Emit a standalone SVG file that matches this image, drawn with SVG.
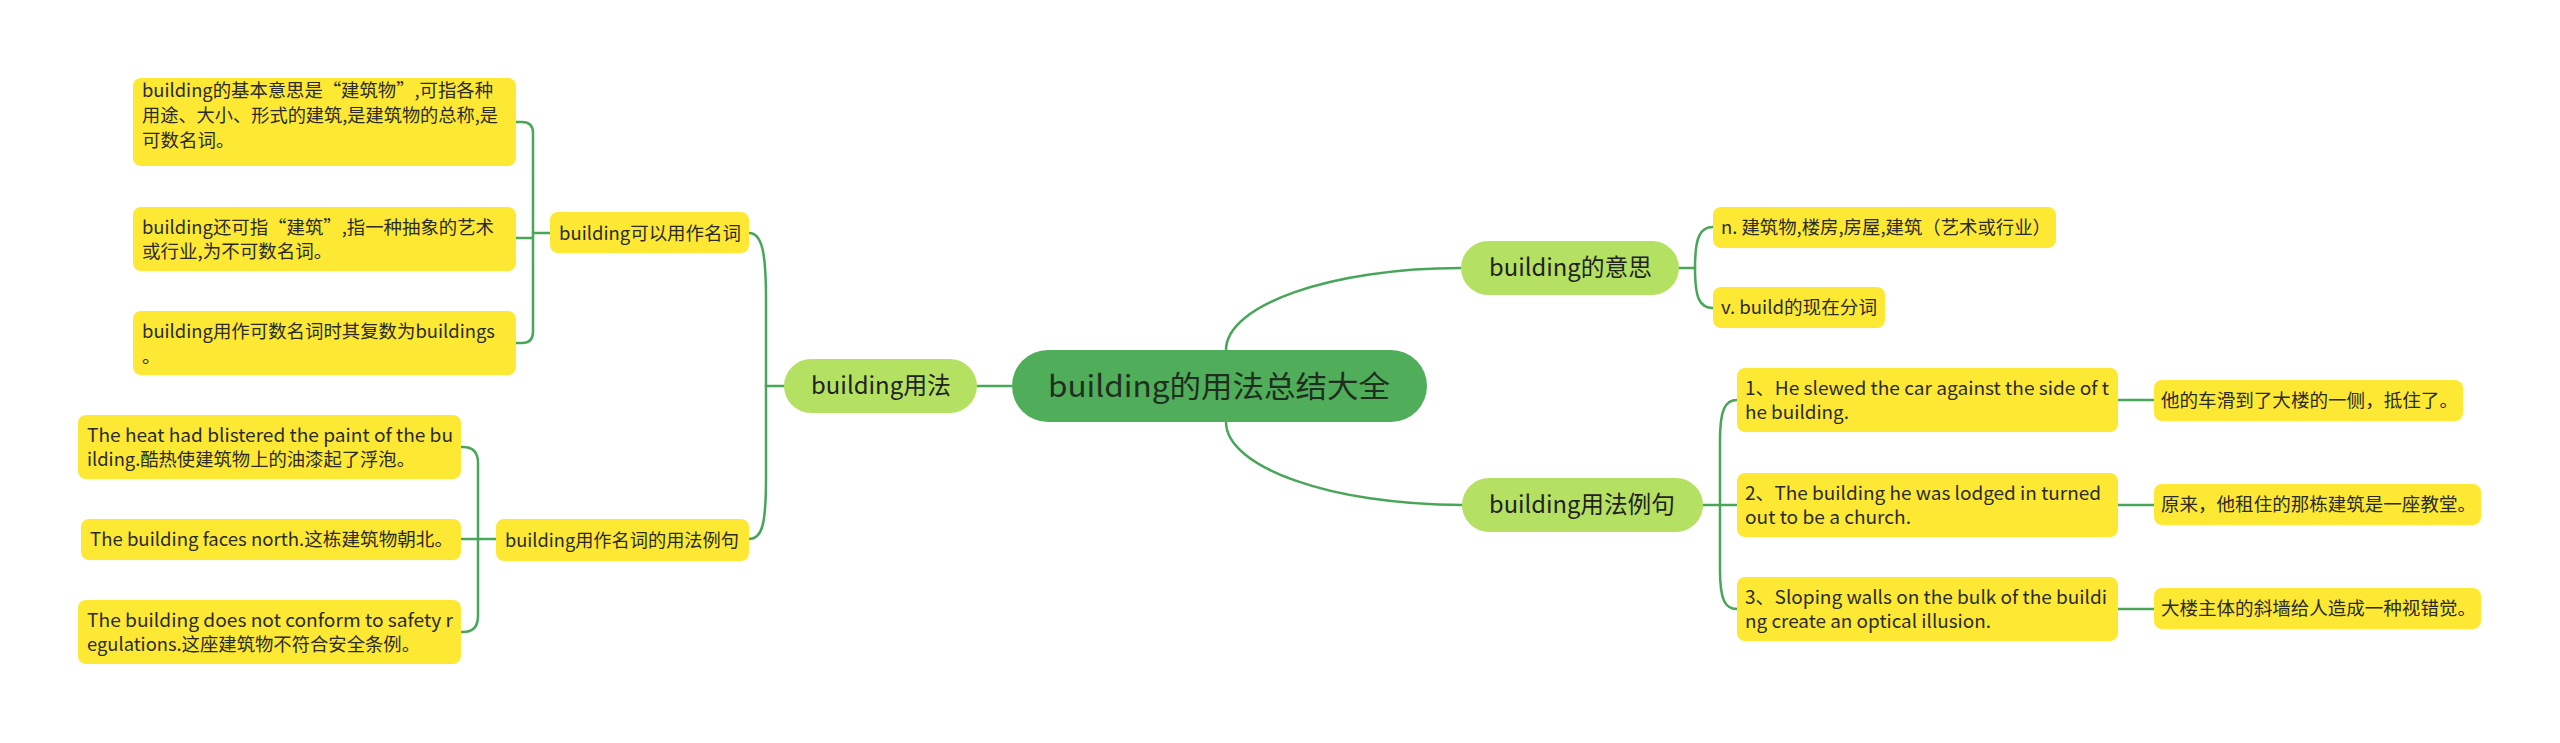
<svg xmlns="http://www.w3.org/2000/svg" width="2560" height="743" viewBox="0 0 2560 743">
<style>
text{font-family:"Noto Sans CJK SC","Microsoft YaHei",sans-serif;}
.root rect{fill:#50ad5a;}
.root text{font-size:30px;fill:#1f2f1f;}
.l1 rect{fill:#b4e162;}
.l1 text{font-size:24px;fill:#222;}
.y rect{fill:#fde933;}
.y text{font-size:18.5px;fill:#2b2b2b;}
.c{fill:none;stroke:#48a658;stroke-width:2.5;stroke-linecap:round;}
</style>
<rect width="2560" height="743" fill="#ffffff"/>
<g id="connectors" class="c">
<path d="M1012 386 L977 386"/>
<path d="M1226 350 C1226 305 1331 268 1461 268"/>
<path d="M1226 422 C1226 467 1331 505 1462 505"/>
<path d="M784 386 L766 386"/>
<path d="M766 386 L766 300 C766 252 762 233 749 233"/>
<path d="M766 386 L766 478 C766 525 762 539 749 539"/>
<path d="M550 233 L533 233"/>
<path d="M533 233 L533 133 Q533 122 522 122 L516 122"/>
<path d="M533 238 L516 238"/>
<path d="M533 233 L533 332 Q533 343 522 343 L516 343"/>
<path d="M496 539 L478 539"/>
<path d="M478 539 L478 463 Q478 447 463 447 L461 447"/>
<path d="M478 539 L461 539"/>
<path d="M478 539 L478 616 Q478 632 463 632 L461 632"/>
<path d="M1679 268 L1695 268"/>
<path d="M1695 268 C1695 237 1700 227 1713 227"/>
<path d="M1695 268 C1695 299 1700 308 1713 308"/>
<path d="M1703 505 L1720 505"/>
<path d="M1720 505 L1720 440 C1720 410 1725 400 1737 400"/>
<path d="M1720 505 L1737 505"/>
<path d="M1720 505 L1720 570 C1720 600 1725 609 1737 609"/>
<path d="M2118 400 L2154 400"/>
<path d="M2118 505 L2154 505"/>
<path d="M2118 609 L2154 609"/>
</g>
<g id="root" class="root">
<rect x="1012" y="350" width="415" height="72" rx="36"/>
<text x="1048" y="397" textLength="342" lengthAdjust="spacingAndGlyphs">building的用法总结大全</text>
</g>
<g id="n-usage" class="l1">
<rect x="784" y="359" width="193" height="54" rx="27"/>
<text x="811" y="394" textLength="140" lengthAdjust="spacingAndGlyphs">building用法</text>
</g>
<g id="n-meaning" class="l1">
<rect x="1461" y="241" width="218" height="54" rx="27"/>
<text x="1489" y="276" textLength="163" lengthAdjust="spacingAndGlyphs">building的意思</text>
</g>
<g id="n-examples" class="l1">
<rect x="1462" y="478" width="241" height="54" rx="27"/>
<text x="1489" y="513" textLength="186" lengthAdjust="spacingAndGlyphs">building用法例句</text>
</g>
<g id="n-noun" class="y">
<rect x="550" y="212" width="199" height="41" rx="8"/>
<text x="559" y="240" textLength="182" lengthAdjust="spacingAndGlyphs">building可以用作名词</text>
</g>
<g id="n-noun-ex" class="y">
<rect x="496" y="519" width="253" height="42" rx="8"/>
<text x="505" y="547" textLength="234" lengthAdjust="spacingAndGlyphs">building用作名词的用法例句</text>
</g>
<g id="n-a1" class="y">
<rect x="133" y="78" width="383" height="88" rx="8"/>
<text x="142" y="97" textLength="351" lengthAdjust="spacingAndGlyphs">building的基本意思是“建筑物”,可指各种</text>
<text x="142" y="122" textLength="356" lengthAdjust="spacingAndGlyphs">用途、大小、形式的建筑,是建筑物的总称,是</text>
<text x="142" y="147">可数名词。</text>
</g>
<g id="n-a2" class="y">
<rect x="133" y="207" width="383" height="64" rx="8"/>
<text x="142" y="234" textLength="352" lengthAdjust="spacingAndGlyphs">building还可指“建筑”,指一种抽象的艺术</text>
<text x="142" y="258">或行业,为不可数名词。</text>
</g>
<g id="n-a3" class="y">
<rect x="133" y="311" width="383" height="64" rx="8"/>
<text x="142" y="338" textLength="353" lengthAdjust="spacingAndGlyphs">building用作可数名词时其复数为buildings</text>
<text x="142" y="363">。</text>
</g>
<g id="n-c1" class="y">
<rect x="78" y="415" width="383" height="64" rx="8"/>
<text x="87" y="442" textLength="366" lengthAdjust="spacingAndGlyphs">The heat had blistered the paint of the bu</text>
<text x="87" y="466" textLength="328" lengthAdjust="spacingAndGlyphs">ilding.酷热使建筑物上的油漆起了浮泡。</text>
</g>
<g id="n-c2" class="y">
<rect x="81" y="519" width="380" height="41" rx="8"/>
<text x="90" y="546" textLength="363" lengthAdjust="spacingAndGlyphs">The building faces north.这栋建筑物朝北。</text>
</g>
<g id="n-c3" class="y">
<rect x="78" y="600" width="383" height="64" rx="8"/>
<text x="87" y="627" textLength="366" lengthAdjust="spacingAndGlyphs">The building does not conform to safety r</text>
<text x="87" y="651" textLength="333" lengthAdjust="spacingAndGlyphs">egulations.这座建筑物不符合安全条例。</text>
</g>
<g id="n-m1" class="y">
<rect x="1713" y="207" width="343" height="41" rx="8"/>
<text x="1721" y="234" textLength="330" lengthAdjust="spacingAndGlyphs">n. 建筑物,楼房,房屋,建筑（艺术或行业）</text>
</g>
<g id="n-m2" class="y">
<rect x="1713" y="287" width="172" height="41" rx="8"/>
<text x="1721" y="314" textLength="156" lengthAdjust="spacingAndGlyphs">v. build的现在分词</text>
</g>
<g id="n-d1" class="y">
<rect x="1737" y="368" width="381" height="64" rx="8"/>
<text x="1745" y="395" textLength="364" lengthAdjust="spacingAndGlyphs">1、He slewed the car against the side of t</text>
<text x="1745" y="419" textLength="104" lengthAdjust="spacingAndGlyphs">he building.</text>
</g>
<g id="n-d2" class="y">
<rect x="1737" y="473" width="381" height="64" rx="8"/>
<text x="1745" y="500" textLength="356" lengthAdjust="spacingAndGlyphs">2、The building he was lodged in turned</text>
<text x="1745" y="524" textLength="166" lengthAdjust="spacingAndGlyphs">out to be a church.</text>
</g>
<g id="n-d3" class="y">
<rect x="1737" y="577" width="381" height="64" rx="8"/>
<text x="1745" y="604" textLength="362" lengthAdjust="spacingAndGlyphs">3、Sloping walls on the bulk of the buildi</text>
<text x="1745" y="628" textLength="246" lengthAdjust="spacingAndGlyphs">ng create an optical illusion.</text>
</g>
<g id="n-e1" class="y">
<rect x="2154" y="380" width="309" height="41" rx="8"/>
<text x="2161" y="407" textLength="297" lengthAdjust="spacingAndGlyphs">他的车滑到了大楼的一侧，抵住了。</text>
</g>
<g id="n-e2" class="y">
<rect x="2154" y="484" width="327" height="41" rx="8"/>
<text x="2161" y="511" textLength="315" lengthAdjust="spacingAndGlyphs">原来，他租住的那栋建筑是一座教堂。</text>
</g>
<g id="n-e3" class="y">
<rect x="2154" y="588" width="327" height="41" rx="8"/>
<text x="2161" y="615" textLength="315" lengthAdjust="spacingAndGlyphs">大楼主体的斜墙给人造成一种视错觉。</text>
</g>
</svg>
